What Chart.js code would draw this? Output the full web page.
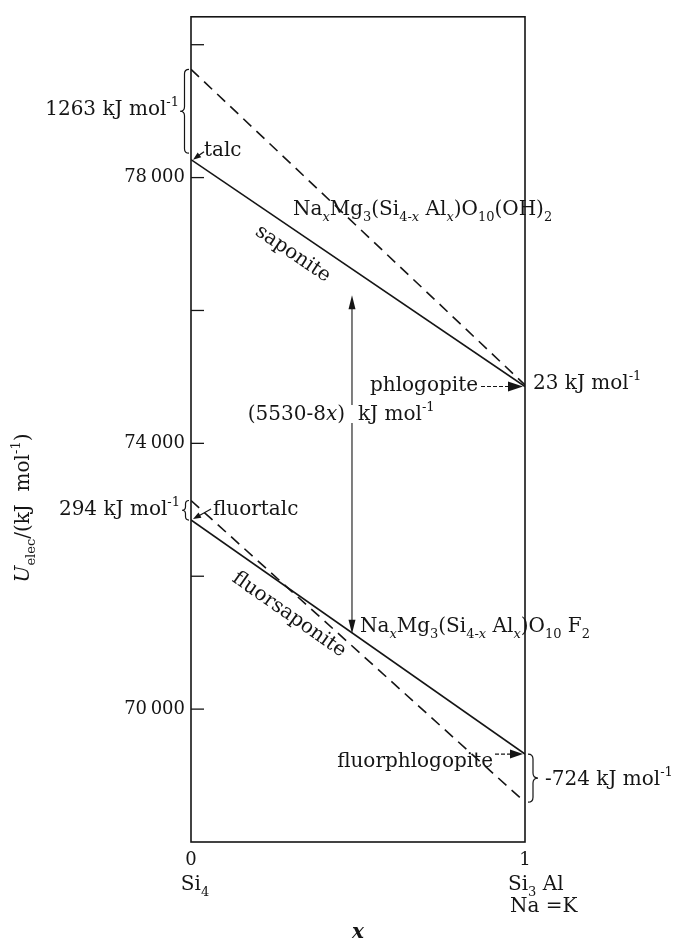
<!DOCTYPE html>
<html lang="en">
<head>
<meta charset="UTF-8">
<title>Electrostatic energy of talc / saponite / phlogopite series</title>
<script src="https://cdn.jsdelivr.net/npm/chart.js"></script>
<style>
    body { margin: 0; background: #fff; }
    .wrap { width: 673px; height: 939px; position: relative; }
</style>
</head>
<body>
<div class="wrap"><canvas id="uChart"></canvas></div>
<script>
    // x = Al substitution, 0 (Si4) to 1 (Si3Al)
    const xEnds = [0, 1];
    const xTicks = [0, 1];
    // U_elec values (kJ/mol) at x = 0 and x = 1
    const saponite = [78270, 74856];
    const saponiteDashed = [79630, 74879];
    const fluorsaponite = [72846, 69324];
    const fluorsaponiteDashed = [73140, 68600];
    // y ticks: labelled ones and unlabelled ones
    const yLabelTicks = [70000, 74000, 78000];
    const yMinorTicks = [72000, 76000, 80000];
    // the (5530-8x) arrow between the two solid lines
    const gapX = 0.482;
    const gapY = [76228, 71133];

    const FONT = '"DejaVu Serif", serif';
    const INK = '#151515';
    const TICK = 18;   // tick numbers
    const SIZE = 20;   // annotation text

    function toPoints(vals) {
        return xEnds.map((x, i) => ({ x: x, y: vals[i] }));
    }

    function fontStr(st, size) {
        const small = st.includes('_') || st.includes('^');
        return (st.includes('i') ? 'italic ' : '') + (st.includes('b') ? 'bold ' : '') +
            (small ? Math.round(size * 0.64) : size) + 'px ' + FONT;
    }

    function richWidth(ctx, parts, size) {
        let w = 0;
        parts.forEach(([t, st = '']) => { ctx.font = fontStr(st, size); w += ctx.measureText(t).width; });
        return w;
    }

    // parts: [text, style] with style letters i (italic), b (bold), _ (sub), ^ (sup)
    function drawRich(ctx, parts, x, y, size, align) {
        const w = richWidth(ctx, parts, size);
        let cx = align === 'right' ? x - w : align === 'center' ? x - w / 2 : x;
        ctx.textAlign = 'left';
        ctx.textBaseline = 'alphabetic';
        parts.forEach(([t, st = '']) => {
            ctx.font = fontStr(st, size);
            const dy = st.includes('_') ? size * 0.3 : st.includes('^') ? -size * 0.45 : 0;
            ctx.fillText(t, cx, y + dy);
            cx += ctx.measureText(t).width;
        });
    }

    function arrow(ctx, x1, y1, x2, y2, len, half) {
        const a = Math.atan2(y2 - y1, x2 - x1);
        ctx.beginPath();
        ctx.moveTo(x1, y1);
        ctx.lineTo(x2 - Math.cos(a) * len * 0.6, y2 - Math.sin(a) * len * 0.6);
        ctx.stroke();
        ctx.beginPath();
        ctx.moveTo(x2, y2);
        ctx.lineTo(x2 - Math.cos(a) * len - Math.sin(a) * half, y2 - Math.sin(a) * len + Math.cos(a) * half);
        ctx.lineTo(x2 - Math.cos(a) * len + Math.sin(a) * half, y2 - Math.sin(a) * len - Math.cos(a) * half);
        ctx.closePath();
        ctx.fill();
    }

    // dir -1: tip on the left "{", dir 1: tip on the right "}"
    function brace(ctx, x, y1, y2, w, dir) {
        const xs = x + dir * w / 2, xt = x + dir * w, ym = (y1 + y2) / 2;
        const r = Math.min(w / 2, (y2 - y1) / 4);
        ctx.beginPath();
        ctx.moveTo(x, y1);
        ctx.quadraticCurveTo(xs, y1, xs, y1 + r);
        ctx.lineTo(xs, ym - r);
        ctx.quadraticCurveTo(xs, ym, xt, ym);
        ctx.quadraticCurveTo(xs, ym, xs, ym + r);
        ctx.lineTo(xs, y2 - r);
        ctx.quadraticCurveTo(xs, y2, x, y2);
        ctx.stroke();
    }

    function rotatedLabel(ctx, parts, xs, ys, t, d) {
        const ang = Math.atan2(ys[1] - ys[0], xs[1] - xs[0]);
        const px = xs[0] + (xs[1] - xs[0]) * t, py = ys[0] + (ys[1] - ys[0]) * t;
        ctx.save();
        ctx.translate(px - Math.sin(ang) * d, py + Math.cos(ang) * d);
        ctx.rotate(ang);
        drawRich(ctx, parts, 0, 7, SIZE, 'center');
        ctx.restore();
    }

    const kJmol = [[' kJ mol'], ['-1', '^']];

    const annotations = {
        id: 'annotations',
        afterDraw(chart) {
            const ctx = chart.ctx;
            const xs = chart.scales.x, ys = chart.scales.y, a = chart.chartArea;
            const px = v => xs.getPixelForValue(v), py = v => ys.getPixelForValue(v);
            ctx.save();
            ctx.strokeStyle = INK;
            ctx.fillStyle = INK;

            // frame and inward ticks
            ctx.lineWidth = 1.6;
            ctx.strokeRect(a.left, a.top, a.right - a.left, a.bottom - a.top);
            ctx.lineWidth = 1.3;
            ys.ticks.forEach(t => {
                const y = py(t.value);
                ctx.beginPath();
                ctx.moveTo(a.left, y);
                ctx.lineTo(a.left + 13, y);
                ctx.stroke();
            });

            const x0 = px(0), x1 = px(1);
            const sx = [x0, x1];

            // talc / saponite / phlogopite
            ctx.lineWidth = 1.2;
            brace(ctx, x0 - 2, py(saponiteDashed[0]), py(saponiteDashed[0] - 1263), 9, -1);
            drawRich(ctx, [['1263'], ...kJmol], x0 - 12, 115, SIZE, 'right');
            arrow(ctx, x0 + 13, py(saponite[0]) - 8, x0 + 2, py(saponite[0]), 8, 3);
            drawRich(ctx, [['talc']], x0 + 13, 156, SIZE, 'left');
            drawRich(ctx, [['Na'], ['x', '_i'], ['Mg'], ['3', '_'], ['(Si'], ['4-', '_'], ['x', '_i'], [' Al'], ['x', '_i'],
                [')O'], ['10', '_'], ['(OH)'], ['2', '_']], 293, 215, SIZE, 'left');
            rotatedLabel(ctx, [['saponite']], sx, [py(saponite[0]), py(saponite[1])], 0.34, 19);
            ctx.setLineDash([4, 2]);
            arrow(ctx, x1 - 44, py(saponite[1]), x1 - 2, py(saponite[1]), 15, 5);
            ctx.setLineDash([]);
            drawRich(ctx, [['phlogopite']], x1 - 47, 391, SIZE, 'right');
            drawRich(ctx, [['23'], ...kJmol], x1 + 8, 389, SIZE, 'left');

            // the gap arrow
            const gx = px(gapX);
            ctx.lineWidth = 1.1;
            arrow(ctx, gx, 405, gx, py(gapY[0]), 14, 3.5);
            arrow(ctx, gx, 423, gx, py(gapY[1]), 14, 3.5);
            drawRich(ctx, [['(5530-8'], ['x', 'i'], [')']], gx - 7, 420, SIZE, 'right');
            drawRich(ctx, [['kJ mol'], ['-1', '^']], gx + 6, 420, SIZE, 'left');

            // fluortalc / fluorsaponite / fluorphlogopite
            ctx.lineWidth = 1.2;
            brace(ctx, x0 - 2, py(fluorsaponiteDashed[0]), py(fluorsaponite[0]), 7, -1);
            drawRich(ctx, [['294'], ...kJmol], x0 - 11, 515, SIZE, 'right');
            arrow(ctx, x0 + 20, py(fluorsaponite[0]) - 11, x0 + 2, py(fluorsaponite[0]) - 1, 8, 3);
            drawRich(ctx, [['fluortalc']], x0 + 22, 515, SIZE, 'left');
            rotatedLabel(ctx, [['fluorsaponite']], sx, [py(fluorsaponite[0]), py(fluorsaponite[1])], 0.33, 19.5);
            drawRich(ctx, [['Na'], ['x', '_i'], ['Mg'], ['3', '_'], ['(Si'], ['4-', '_'], ['x', '_i'], [' Al'], ['x', '_i'],
                [')O'], ['10', '_'], [' F'], ['2', '_']], 360, 632, SIZE, 'left');
            ctx.setLineDash([4, 2]);
            arrow(ctx, x1 - 30, py(fluorsaponite[1]), x1 - 2, py(fluorsaponite[1]), 13, 4.5);
            ctx.setLineDash([]);
            drawRich(ctx, [['fluorphlogopite']], x1 - 32, 767, SIZE, 'right');
            brace(ctx, x1 + 3, py(fluorsaponite[1]), py(fluorsaponiteDashed[1]), 10, 1);
            drawRich(ctx, [['-724'], ...kJmol], x1 + 20, 785, SIZE, 'left');

            // x sub-labels and axis titles
            drawRich(ctx, [['Si'], ['4', '_']], x0 + 4, 890, SIZE, 'center');
            drawRich(ctx, [['Si'], ['3', '_'], [' Al']], x1 - 17, 890, SIZE, 'left');
            drawRich(ctx, [['Na =K']], x1 - 15, 912, SIZE, 'left');
            drawRich(ctx, [['x', 'ib']], (x0 + x1) / 2, 938, SIZE, 'center');

            ctx.save();
            ctx.translate(22, 508);
            ctx.rotate(-Math.PI / 2);
            drawRich(ctx, [['U', 'i'], ['elec', '_'], ['/(kJ  mol'], ['-1', '^'], [')']], 0, 7, SIZE, 'center');
            ctx.restore();

            ctx.restore();
        }
    };

    const lineStyle = { borderColor: INK, borderWidth: 1.6, pointRadius: 0, showLine: true, fill: false };

    new Chart(document.getElementById('uChart'), {
        type: 'scatter',
        data: {
            datasets: [
                { label: 'saponite', data: toPoints(saponite), ...lineStyle },
                { label: 'saponite (dashed)', data: toPoints(saponiteDashed), ...lineStyle, borderDash: [11, 7] },
                { label: 'fluorsaponite', data: toPoints(fluorsaponite), ...lineStyle },
                { label: 'fluorsaponite (dashed)', data: toPoints(fluorsaponiteDashed), ...lineStyle, borderDash: [11, 7] }
            ]
        },
        options: {
            responsive: true,
            maintainAspectRatio: false,
            animation: false,
            devicePixelRatio: 1,
            layout: { padding: { left: 0, right: 148, top: 14, bottom: 0 } },
            plugins: { legend: { display: false }, tooltip: { enabled: false } },
            scales: {
                x: {
                    type: 'linear',
                    min: 0,
                    max: 1,
                    afterBuildTicks: s => { s.ticks = xTicks.map(v => ({ value: v })); },
                    afterFit: s => { s.height = 97; },
                    grid: { display: false, drawTicks: false },
                    border: { display: false },
                    ticks: {
                        color: INK,
                        padding: 8,
                        maxRotation: 0,
                        font: { family: FONT, size: TICK },
                        callback: v => String(v)
                    }
                },
                y: {
                    type: 'linear',
                    min: 68000,
                    max: 80420,
                    afterBuildTicks: s => {
                        s.ticks = yLabelTicks.concat(yMinorTicks).sort((p, q) => p - q).map(v => ({ value: v }));
                    },
                    afterFit: s => { s.width = 191; },
                    grid: { display: false, drawTicks: false },
                    border: { display: false },
                    ticks: {
                        color: INK,
                        padding: 6,
                        font: { family: FONT, size: TICK },
                        callback: v => yLabelTicks.includes(v) ? String(v).replace(/(\d+)(\d{3})$/, '$1\u2009$2') : ''
                    }
                }
            }
        },
        plugins: [annotations]
    });
</script>
</body>
</html>
